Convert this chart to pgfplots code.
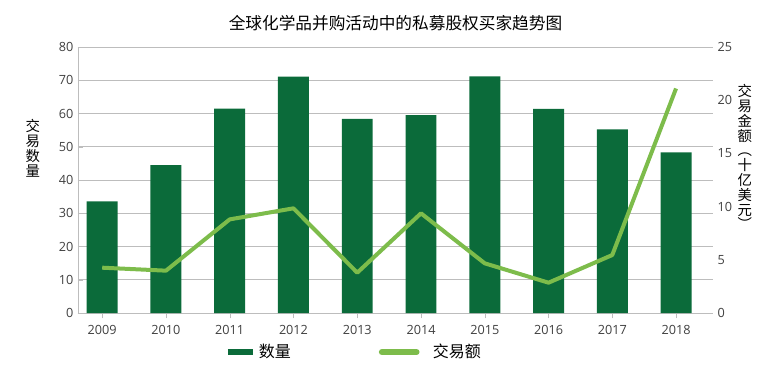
\documentclass[border=0pt]{standalone}
\usepackage{pgfplots}
\pgfplotsset{compat=1.18}
\usepackage{fontspec}
\setmainfont{Open Sans}
\newfontfamily\cjk{Noto Sans CJK SC}
\definecolor{bardark}{HTML}{0B6B3A}
\definecolor{linegreen}{HTML}{7DBC4B}
\definecolor{gridgray}{HTML}{BDBDBD}
\definecolor{ticktext}{HTML}{404040}
\begin{document}
\begin{tikzpicture}
\pgfplotsset{
  common/.style={
    scale only axis, width=476.25pt, height=199.5pt,
    xmin=-0.38, xmax=9.58,
    clip=false,
    /pgf/number format/assume math mode=true,
    tick label style={font=\fontsize{9.5}{11}\selectfont, color=ticktext},
  }
}
\begin{axis}[common,
  ymin=0, ymax=80, ytick={0,10,...,80},
  axis y line*=left, axis x line*=bottom,
  axis line style={gridgray},
  major tick length=4pt,
  tick style={gridgray},
  xtick={0,...,9}, xticklabels={2009,2010,2011,2012,2013,2014,2015,2016,2017,2018},
  x tick label style={yshift=-2pt},
  ymajorgrids, grid style={gridgray, line width=0.6pt},
  ybar, bar width=0.486,
]
\addplot[fill=bardark, draw=none] coordinates {
 (0,33.6) (1,44.5) (2,61.5) (3,71.1) (4,58.4) (5,59.5) (6,71.2) (7,61.4) (8,55.2) (9,48.3)};
\node at (rel axis cs:0.5,1.09) {\cjk\fontsize{12.5}{14}\selectfont 全球化学品并购活动中的私募股权买家趋势图};
\node[align=center, inner sep=0pt, font=\cjk\fontsize{10.8}{11.3}\selectfont] at (rel axis cs:-0.071,0.62) {交\\易\\数\\量};
\node[align=center, inner sep=0pt, font=\cjk\fontsize{10.8}{11.1}\selectfont] at (rel axis cs:1.050,0.586) {交\\易\\金\\额\\︵\\十\\亿\\美\\元\\︶};
\coordinate (bl) at (rel axis cs:-0.1228,-0.2143);
\coordinate (tr) at (rel axis cs:1.0740,1.1767);
\end{axis}
\begin{axis}[common,
  ymin=0, ymax=25, ytick={0,5,...,25},
  axis y line*=right, axis line style={draw=none},
  hide x axis,
  major tick length=0pt,
  legend style={at={(0.435,-0.147)}, anchor=center, draw=none, legend columns=2,
    font=\cjk\fontsize{12}{14}\selectfont,
    /tikz/every even column/.append style={column sep=64pt}},
]
\addlegendimage{legend image code/.code={\draw[bardark, line width=4.5pt] (0pt,0pt) -- (19pt,0pt);}}
\addlegendentry{数量}
\addplot[linegreen, line width=3pt, line join=round, mark=none,
  legend image code/.code={\draw[linegreen, line width=4.5pt, line cap=round] (0pt,0pt) -- (26pt,0pt);}]
 coordinates {(0,4.26) (1,3.98) (2,8.8) (3,9.84) (4,3.79) (5,9.37) (6,4.67) (7,2.85) (8,5.45) (9,21.1)};
\addlegendentry{\hspace{8pt}交易额}
\end{axis}
\path (bl) rectangle (tr);
\end{tikzpicture}
\end{document}
